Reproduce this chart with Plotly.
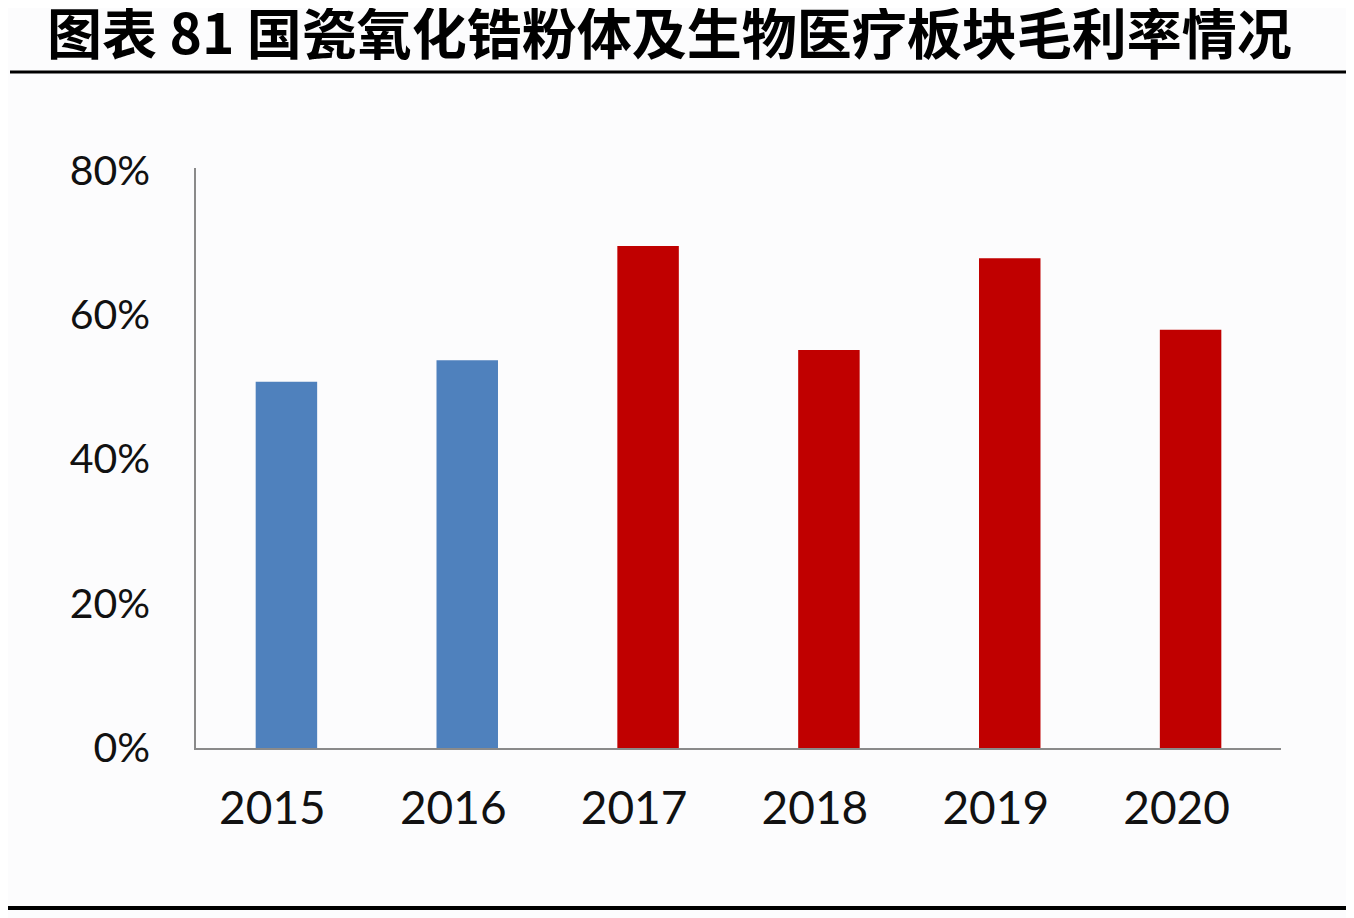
import plotly.graph_objects as go

W, H = 1354, 918
OFF = 8  # the page body adds an 8px margin, so place everything 8px up/left

years = ['2015', '2016', '2017', '2018', '2019', '2020']
margin_pct = [50.7, 53.7, 69.5, 55.1, 67.8, 57.9]
bar_colors = ['#4f81bd', '#4f81bd', '#c00000', '#c00000', '#c00000', '#c00000']
y_ticks = [0, 20, 40, 60, 80]
y_labels = ['0%', '20%', '40%', '60%', '80%']

title = '图表 81 国瓷氧化锆粉体及生物医疗板块毛利率情况'


def px(v):
    return (v - OFF) / W


def py(v):
    return 1 - (v - OFF) / H


fig = go.Figure(go.Bar(
    x=years, y=margin_pct,
    marker=dict(color=bar_colors, line=dict(width=0)),
    width=0.34,
))

fig.update_layout(
    width=W, height=H,
    autosize=False,
    margin=dict(l=0, r=0, t=0, b=0, pad=0, autoexpand=False),
    paper_bgcolor='#fcfcfd',
    plot_bgcolor='#fcfcfd',
    showlegend=False,
    font=dict(family='Lato, Noto Sans', color='#111111'),
    xaxis=dict(
        domain=[px(196), px(1281)],
        automargin=False,
        showgrid=False, zeroline=False,
        showline=True, linecolor='#8a8a8a', linewidth=1.5,
        ticks='', tickfont=dict(size=46, color='#111111'),
        ticklabelstandoff=19,
        ticklabelshift=-14,
    ),
    yaxis=dict(
        domain=[py(748), py(168)],
        automargin=False,
        range=[0, 80.3],
        showgrid=False, zeroline=False,
        showline=True, linecolor='#8a8a8a', linewidth=1.5,
        tickvals=y_ticks, ticktext=y_labels,
        ticks='', tickfont=dict(size=41, color='#111111'),
        ticklabelstandoff=36,
    ),
)

fig.add_annotation(
    x=px(45), y=py(30), xref='paper', yref='paper',
    xanchor='left', yanchor='middle', showarrow=False,
    text='<b>' + title + '</b>',
    font=dict(family='Noto Sans CJK SC', size=55, color='#000000'),
)

# rules above and below the chart
fig.add_shape(type='line', xref='paper', yref='paper',
              x0=px(10), x1=1, y0=py(72), y1=py(72),
              line=dict(color='#000000', width=3))
fig.add_shape(type='line', xref='paper', yref='paper',
              x0=0, x1=1, y0=py(908), y1=py(908),
              line=dict(color='#000000', width=4))

fig.write_html("out.html")
